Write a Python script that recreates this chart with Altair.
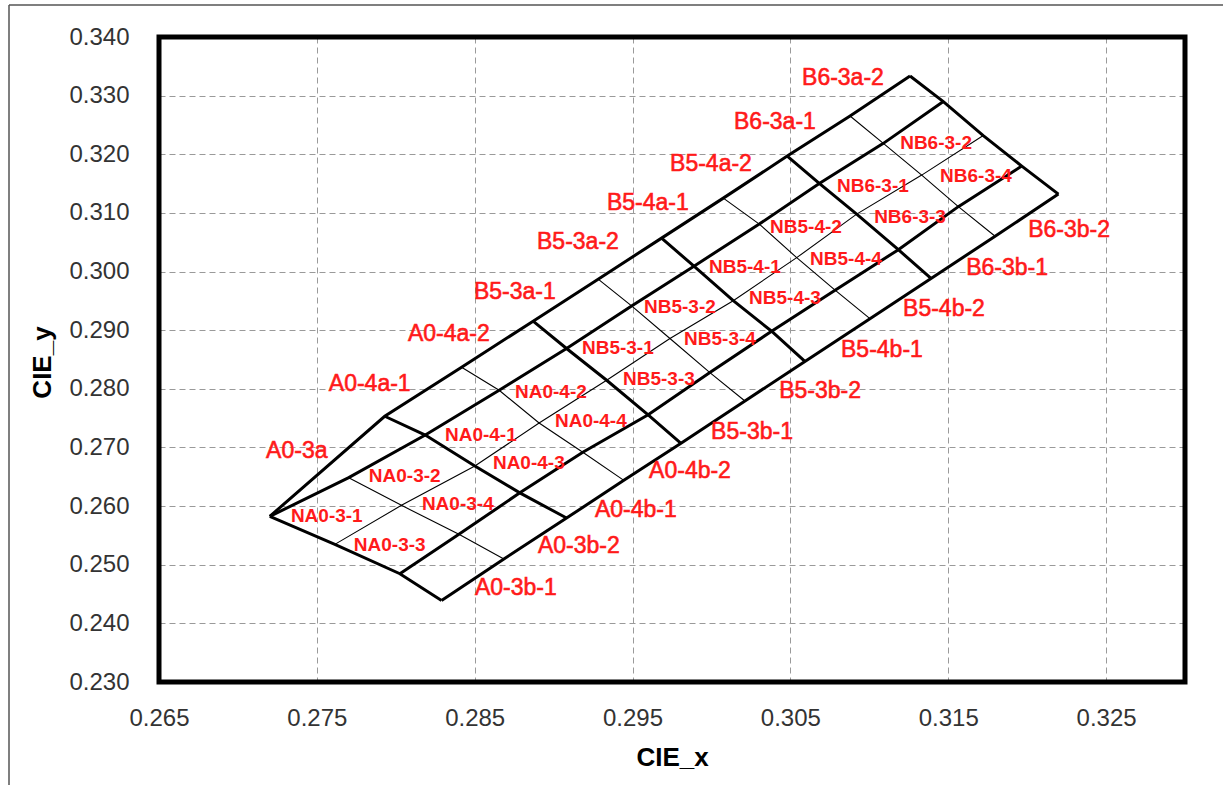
import altair as alt
import pandas as pd

# Node coordinates (CIE x, y) where the bin boundaries cross.
# Each list runs from the left tip to the right edge through these columns:
# left edge, A0-3 split, A0-3|A0-4, A0-4 split, A0-4|B5-3, B5-3 split,
# B5-3|B5-4, B5-4 split, B5-4|B6-3, B6-3 split, right edge.
top_x = [0.27202, None, 0.27930, 0.28417, 0.28870, 0.29282, 0.29684, 0.30075, 0.30480, 0.30878, 0.31258]
top_y = [0.25825, None, 0.27532, 0.28368, 0.29153, 0.29870, 0.30570, 0.31252, 0.31969, 0.32652, 0.33335]

upper_x = [0.27202, 0.27702, 0.28187, 0.28655, 0.29082, 0.29494, 0.29889, 0.30303, 0.30683, 0.31089, 0.31469]
upper_y = [0.25825, 0.26485, 0.27212, 0.27975, 0.28687, 0.29414, 0.30092, 0.30809, 0.31503, 0.32186, 0.32899]

middle_x = [0.27614, 0.28036, 0.28501, 0.28908, 0.29336, 0.29737, 0.30138, 0.30540, 0.30920, 0.31332, 0.31722]
middle_y = [0.25347, 0.26013, 0.26683, 0.27417, 0.28146, 0.28858, 0.29503, 0.30237, 0.30979, 0.31645, 0.32319]

lower_x = [0.28026, 0.28400, 0.28786, 0.29185, 0.29599, 0.29990, 0.30381, 0.30783, 0.31184, 0.31564, 0.31966]
lower_y = [0.24847, 0.25518, 0.26226, 0.26917, 0.27557, 0.28277, 0.28982, 0.29682, 0.30373, 0.31107, 0.31799]

bottom_x = [0.28290, 0.28685, 0.29082, 0.29445, 0.29807, 0.30212, 0.30592, 0.31004, 0.31391, 0.31797, 0.32198]
bottom_y = [0.24391, 0.25099, 0.25796, 0.26439, 0.27071, 0.27793, 0.28467, 0.29197, 0.29882, 0.30602, 0.31321]

# Line weights: main bin boundaries are heavy, sub-bin splits are light.
long_weight = ["thick", "thick", "thin", "thick", "thick"]
cross_weight = ["thick", "thin", "thick", "thin", "thick", "thin",
                "thick", "thin", "thick", "thin", "thick"]

# Bin names written outside the outline
outer_names = ["A0-3a", "A0-4a-1", "A0-4a-2", "B5-3a-1", "B5-3a-2", "B5-4a-1",
               "B5-4a-2", "B6-3a-1", "B6-3a-2",
               "A0-3b-1", "A0-3b-2", "A0-4b-1", "A0-4b-2", "B5-3b-1", "B5-3b-2",
               "B5-4b-1", "B5-4b-2", "B6-3b-1", "B6-3b-2"]
outer_x = [0.27373, 0.27835, 0.28336, 0.28754, 0.29154, 0.29597, 0.29997, 0.30402, 0.30833,
           0.28761, 0.29160, 0.29521, 0.29864, 0.30257, 0.30688, 0.31080, 0.31473, 0.31873, 0.32266]
outer_y = [0.26934, 0.28078, 0.28931, 0.29648, 0.30501, 0.31167, 0.31833, 0.32550, 0.33301,
           0.24596, 0.25313, 0.25927, 0.26593, 0.27259, 0.27958, 0.28658, 0.29358, 0.30058, 0.30706]

# Bin names written inside the cells
inner_names = ["NA0-3-1", "NA0-3-2", "NA0-3-3", "NA0-3-4",
               "NA0-4-1", "NA0-4-2", "NA0-4-3", "NA0-4-4",
               "NB5-3-1", "NB5-3-2", "NB5-3-3", "NB5-3-4",
               "NB5-4-1", "NB5-4-2", "NB5-4-3", "NB5-4-4",
               "NB6-3-1", "NB6-3-2", "NB6-3-3", "NB6-3-4"]
inner_x = [0.27563, 0.28057, 0.27962, 0.28393,
           0.28539, 0.28983, 0.28843, 0.29236,
           0.29407, 0.29800, 0.29667, 0.30054,
           0.30212, 0.30599, 0.30466, 0.30852,
           0.31023, 0.31423, 0.31258, 0.31676]
inner_y = [0.25825, 0.26508, 0.25330, 0.26030,
           0.27207, 0.27941, 0.26729, 0.27446,
           0.28692, 0.29392, 0.28163, 0.28846,
           0.30075, 0.30758, 0.29546, 0.30211,
           0.31457, 0.32191, 0.30928, 0.31628]

x_ticks = [0.265, 0.275, 0.285, 0.295, 0.305, 0.315, 0.325]
y_ticks = [0.23, 0.24, 0.25, 0.26, 0.27, 0.28, 0.29, 0.30, 0.31, 0.32, 0.33, 0.34]

# Build polylines: the five long boundaries, then the cross boundaries.
long_lines = [(top_x, top_y), (upper_x, upper_y), (middle_x, middle_y),
              (lower_x, lower_y), (bottom_x, bottom_y)]
rows = []
for i, (xs, ys) in enumerate(long_lines):
    for j, (x, y) in enumerate(zip(xs, ys)):
        if x is not None:
            rows.append({"line": f"long{i}", "seq": j, "x": x, "y": y, "w": long_weight[i]})
for j in range(len(cross_weight)):
    for i, (xs, ys) in enumerate(long_lines):
        if xs[j] is not None:
            rows.append({"line": f"cross{j}", "seq": i, "x": xs[j], "y": ys[j], "w": cross_weight[j]})
grid_df = pd.DataFrame(rows)

outer_df = pd.DataFrame({"name": outer_names, "x": outer_x, "y": outer_y})
inner_df = pd.DataFrame({"name": inner_names, "x": inner_x, "y": inner_y})

FONT = "Liberation Sans"
RED = "#ff1a1a"
x_scale = alt.Scale(domain=[0.265, 0.330], nice=False, zero=False)
y_scale = alt.Scale(domain=[0.23, 0.34], nice=False, zero=False)

x_axis = alt.Axis(values=x_ticks, format=".3f", title="CIE_x", grid=True, ticks=False,
                  domain=False, labelPadding=24, labelFlush=False, labelOverlap=False,
                  titleX=513, titleY=75, titleBaseline="middle", titleAlign="center")
y_axis = alt.Axis(values=y_ticks, format=".3f", title="CIE_y", grid=True, ticks=False,
                  domain=False, labelPadding=30, labelFlush=False, labelOverlap=False,
                  titleAngle=270, titleX=-117, titleY=325, titleBaseline="middle",
                  titleAlign="center")

lines = alt.Chart(grid_df).mark_line(color="black", strokeJoin="miter").encode(
    x=alt.X("x:Q", scale=x_scale, axis=x_axis),
    y=alt.Y("y:Q", scale=y_scale, axis=y_axis),
    detail="line:N",
    order="seq:Q",
    strokeWidth=alt.StrokeWidth("w:N", scale=alt.Scale(domain=["thick", "thin"], range=[3, 1.1]),
                                legend=None),
)

outer_text = alt.Chart(outer_df).mark_text(
    font=FONT, fontSize=23, color=RED, stroke=RED, strokeWidth=0.6,
    align="center", baseline="middle"
).encode(x=alt.X("x:Q", scale=x_scale), y=alt.Y("y:Q", scale=y_scale), text="name:N")

inner_text = alt.Chart(inner_df).mark_text(
    font=FONT, fontSize=19, fontWeight="bold", color=RED, align="center", baseline="middle"
).encode(x=alt.X("x:Q", scale=x_scale), y=alt.Y("y:Q", scale=y_scale), text="name:N")

# Heavy border around the plotting area, drawn above the grid
one_row = pd.DataFrame({"k": [0]})
plot_border = alt.Chart(one_row).mark_rect(
    fillOpacity=0, stroke="black", strokeWidth=5
).encode(x=alt.value(0), x2=alt.value(1026), y=alt.value(0), y2=alt.value(645))

# Thin frame around the whole figure (left and top edges)
frame_left = alt.Chart(one_row).mark_rule(color="#555", strokeWidth=1.5).encode(
    x=alt.value(-150), y=alt.value(-32), y2=alt.value(760))
frame_top = alt.Chart(one_row).mark_rule(color="#555", strokeWidth=1.5).encode(
    x=alt.value(-150), x2=alt.value(1070), y=alt.value(-32))

chart = alt.layer(lines, outer_text, inner_text, plot_border, frame_left, frame_top).properties(
    width=1026, height=645,
    autosize=alt.AutoSizeParams(type="none"),
    padding={"left": 159, "top": 37, "right": 38, "bottom": 103},
    background="white",
).configure_view(
    stroke=None
).configure_axis(
    gridColor="#9a9a9a", gridDash=[6, 4], gridWidth=1,
    labelFont=FONT, labelFontSize=24, labelColor="#333333",
    titleFont=FONT, titleFontSize=26, titleFontWeight="bold", titleColor="black",
)

chart.save("out.html", embed_options={"renderer": "svg", "actions": False})
